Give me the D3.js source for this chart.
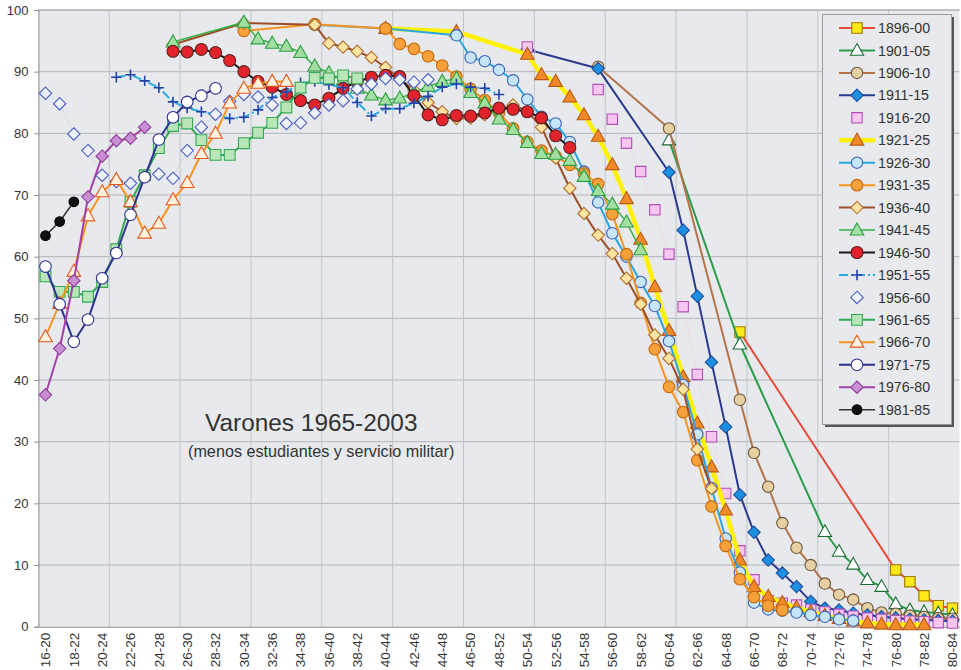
<!DOCTYPE html>
<html><head><meta charset="utf-8">
<script src="https://cdn.jsdelivr.net/npm/d3@7"></script>
<style>
body{margin:0;background:#fff;}
svg text{font-family:"Liberation Sans",Arial,Helvetica,sans-serif;fill:#333;}
</style></head>
<body><svg id="c" width="961" height="670"></svg>
<script>
// ---------- DATA ----------
const categories = ["16-20","17-21","18-22","19-23","20-24","21-25","22-26","23-27","24-28","25-29","26-30","27-31","28-32","29-33","30-34","31-35","32-36","33-37","34-38","35-39","36-40","37-41","38-42","39-43","40-44","41-45","42-46","43-47","44-48","45-49","46-50","47-51","48-52","49-53","50-54","51-55","52-56","53-57","54-58","55-59","56-60","57-61","58-62","59-63","60-64","61-65","62-66","63-67","64-68","65-69","66-70","67-71","68-72","69-73","70-74","71-75","72-76","73-77","74-78","75-79","76-80","77-81","78-82","79-83","80-84"];
const tickLabels = ["16-20","18-22","20-24","22-26","24-28","26-30","28-32","30-34","32-36","34-38","36-40","38-42","40-44","42-46","44-48","46-50","48-52","50-54","52-56","54-58","56-60","58-62","60-64","62-66","64-68","66-70","68-72","70-74","72-76","74-78","76-80","78-82","80-84"];
const yTicks = [0,10,20,30,40,50,60,70,80,90,100];
const seriesNames = ["1896-00","1901-05","1906-10","1911-15","1916-20","1921-25","1926-30","1931-35","1936-40","1941-45","1946-50","1951-55","1956-60","1961-65","1966-70","1971-75","1976-80","1981-85"];
// first category of each series (values below run over consecutive categories; null = not observed)
const firstCategory = ["65-69","60-64","55-59","50-54","50-54","40-44","35-39","30-34","25-29","25-29","25-29","21-25","16-20","16-20","16-20","16-20","16-20","16-20"];
const _ = null;
const v1896 = [47.8,_,_,_,_,_,_,_,_,_,_,9.2,7.3,5.0,3.4,3.0];
const v1901 = [78.9,_,_,_,_,45.8,_,_,_,_,_,15.4,12.2,10.1,7.6,6.5,3.7,2.7,2.4,2.2,1.9];
const v1906 = [90.8,_,_,_,_,80.8,_,_,_,_,36.8,28.2,22.7,16.8,12.8,10.0,7.0,5.2,4.4,3.0,2.3,2.1,1.8,1.6,1.4,1.3];
const v1911 = [93.6,_,_,_,_,90.5,_,_,_,_,73.7,64.3,53.6,42.9,32.4,21.4,15.3,10.8,8.7,6.5,4.1,3.0,2.7,2.2,1.9,1.6,1.4,1.2,1.1,1.0,0.9];
const v1916 = [94.0,_,_,_,_,87.1,82.3,78.4,73.8,67.6,60.4,51.9,40.9,30.8,21.6,12.3,7.6,4.2,3.8,3.5,2.8,2.4,2.0,1.7,1.4,1.2,1.0,0.9,0.8,0.65,0.6];
const v1921 = [97.0,_,_,_,_,96.5,_,_,_,_,92.8,89.5,88.4,85.9,83.0,79.5,74.9,69.4,62.8,55.1,48.0,40.5,33.0,25.9,18.9,10.8,6.5,4.9,3.9,3.1,2.4,1.8,1.3,0.9,0.6,0.4,0.3,0.3,0.3];
const v1926 = [97.6,_,_,_,_,97.0,_,_,_,_,95.9,92.3,91.7,90.3,88.6,85.5,82.7,81.6,78.6,73.8,68.8,63.8,60.0,55.9,52.0,46.3,39.2,31.2,22.5,14.3,8.8,3.9,2.8,2.6,2.3,1.9,1.6,1.2,1.0];
const v1931 = [96.6,_,_,_,_,97.7,_,_,_,_,97.0,94.5,93.7,92.5,91.0,89.2,87.2,85.4,83.3,80.8,78.6,77.2,76.3,74.9,73.5,71.8,66.9,60.4,52.5,45.0,38.9,34.8,27.0,19.5,13.1,7.7,4.8,3.4,2.7];
const v1936 = [94.4,_,_,_,_,97.9,_,_,_,_,97.6,94.6,94.0,93.3,92.3,90.7,88.9,87.0,85.0,83.5,82.4,82.5,83.0,83.8,84.6,83.6,81.0,76.0,71.1,67.0,63.5,60.5,56.5,52.3,47.3,43.5,38.5,28.8,22.4];
const v1941 = [94.8,_,_,_,_,98.0,95.3,94.6,94.1,93.1,90.9,89.8,88.6,87.3,86.2,85.4,85.7,86.6,87.6,88.4,88.9,86.6,84.9,82.3,80.6,78.5,76.7,76.6,75.6,73.0,70.7,68.5,65.6,61.1];
const v1946 = [93.3,93.2,93.6,93.1,91.8,90.0,88.4,87.5,86.3,85.3,84.6,85.7,87.3,88.4,89.1,89.4,89.2,86.1,83.0,82.2,82.9,82.8,83.3,84.1,83.9,83.5,82.5,79.6,77.7];
const v1951 = [89.1,89.5,88.5,87.4,85.1,84.1,83.5,83.0,82.4,82.6,83.8,85.8,86.7,88.2,88.4,87.9,87.4,85.0,82.8,84.0,84.0,84.9,86.0,87.5,88.0,87.5,87.3,86.3];
const v1956 = [86.5,84.8,79.9,77.2,73.2,72.2,71.9,73.0,73.4,72.7,77.2,81.0,83.1,85.2,86.3,85.9,84.6,81.6,81.7,83.3,84.6,85.3,87.2,88.0,88.9,88.7,88.3,88.7];
const v1961 = [56.8,54.3,54.3,53.5,55.9,61.2,68.9,73.2,77.6,81.2,81.6,78.9,76.5,76.5,78.4,80.1,81.7,84.2,87.4,89.0,88.9,89.4,88.9];
const v1966 = [47.0,52.4,57.6,66.6,70.5,72.5,68.9,63.8,65.4,69.2,72.0,76.7,80.0,84.9,87.3,88.1,88.4,88.4];
const v1971 = [58.4,52.3,46.2,49.8,56.5,60.6,66.8,72.9,79.0,82.6,85.1,86.1,87.3];
const v1976 = [37.6,45.1,56.1,69.7,76.3,78.8,79.2,81.0];
const v1981 = [63.4,65.7,68.9];
const seriesValues = [v1896,v1901,v1906,v1911,v1916,v1921,v1926,v1931,v1936,v1941,v1946,v1951,v1956,v1961,v1966,v1971,v1976,v1981];

// ---------- STYLES ----------
const lineColor  = ["#e84a3a","#2a9d4a","#b5734a","#2b3a8c","#f6cdea","#fff200","#2aa6df","#f7941d","#9c4f2a","#37b34a","#1a1a1a","#29abe2","#b4d8f0","#2fa84f","#f7941d","#2e3192","#a43fa8","#333333"];
const lineWidth  = [2,2,2,2,1,4.5,2,2,2,1.5,2,2,1,2,2,2,2,1.5];
const lineDash   = [null,null,null,null,"2,2",null,null,null,null,null,null,"9,3,2,3","2,2",null,null,null,null,null];
const legendLine = [1,1,1,1,0,1,1,1,1,1,1,1,0,1,1,1,1,1];
const mShape     = ["square","triangle","circle","diamond","square","triangle","circle","circle","diamond","triangle","circle","plus","diamond","square","triangle","circle","diamond","circle"];
const mFill      = ["#ffe81a","#ffffff","#e6cfa0","#1c8fe0","#f6c6ef","#f28a2a","#c7e5fa","#f7a13a","#ffe3a3","#a3dfa0","#e3232b","none","#eef2fb","#b8e6b8","#fff3dd","#ffffff","#c98fd2","#111111"];
const mStroke    = ["#9a7a00","#1d6b34","#6b5a40","#1f4b9c","#b24fb6","#b85a14","#3a62b8","#c66a12","#b0702e","#2e9e44","#5a2020","#2541a8","#4b5cc4","#35a855","#e8561e","#2e3192","#8e3e9a","#000000"];
const mSize      = [5.2,6.3,5.7,6.2,5.2,6.5,5.7,5.8,6.2,6.5,6,5.2,6.2,5.4,6.5,5.8,6.2,4.8];

// ---------- LAYOUT ----------
const svg = d3.select("#c");
const L = 38.4, R = 959.5, T = 10, B = 626.7;
const x = d3.scaleBand().domain(categories).range([L, R]);
const y = d3.scaleLinear().domain([0,100]).range([B, T]);
const bw = x.bandwidth();
const cx = c => x(c) + bw/2;

svg.append("rect").attr("x",L).attr("y",T).attr("width",R-L).attr("height",B-T).attr("fill","#e7e9ed");

// gridlines
svg.append("g").selectAll("line").data(yTicks.filter(t=>t>0)).join("line")
  .attr("x1",L).attr("x2",R).attr("y1",d=>y(d)).attr("y2",d=>y(d))
  .attr("stroke","#b3b5b9").attr("stroke-width",1);
svg.append("g").selectAll("line").data(categories.filter((c,i)=>i>0 && i%5===0)).join("line")
  .attr("x1",d=>x(d)).attr("x2",d=>x(d)).attr("y1",T).attr("y2",B)
  .attr("stroke","#c2c4c8").attr("stroke-width",1);

// axes
const ya = svg.append("g").attr("transform",`translate(${L},0)`)
  .call(d3.axisLeft(y).tickValues(yTicks).tickSize(4).tickPadding(6).tickFormat(d3.format("d")));
ya.select(".domain").attr("stroke","#8a8a8a");
ya.selectAll(".tick line").attr("stroke","#8a8a8a");
ya.selectAll("text").style("font-size","13px").attr("fill","#333");

const xa = svg.append("g").attr("transform",`translate(0,${B})`)
  .call(d3.axisBottom(x).tickValues(tickLabels).tickSize(0).tickSizeOuter(0));
xa.select(".domain").attr("stroke","#8a8a8a");
xa.selectAll("text").style("font-size","13.5px").attr("fill","#3a3a3a")
  .attr("transform","rotate(-90)").attr("text-anchor","end")
  .attr("x",-6).attr("y",0).attr("dy","0.36em");

// markers
function markerPath(shape, s){
  switch(shape){
    case "square": return `M${-s},${-s}H${s}V${s}H${-s}Z`;
    case "triangle": return `M0,${-s*1.1}L${s*1.05},${s*0.75}L${-s*1.05},${s*0.75}Z`;
    case "diamond": return `M0,${-s}L${s},0L0,${s}L${-s},0Z`;
    case "plus": return `M${-s},0H${s}M0,${-s}V${s}`;
    default: return null;
  }
}
function drawMarker(g, k, px, py){
  const s = mSize[k];
  if (mShape[k] === "circle"){
    g.append("circle").attr("cx",px).attr("cy",py).attr("r",s)
      .attr("fill",mFill[k]).attr("stroke",mStroke[k]).attr("stroke-width",1.1);
  } else {
    g.append("path").attr("d",markerPath(mShape[k],s)).attr("transform",`translate(${px},${py})`)
      .attr("fill",mFill[k]).attr("stroke",mStroke[k]).attr("stroke-width",mShape[k]==="plus"?1.6:1.1);
  }
}

const line = d3.line().x(d=>cx(d.cat)).y(d=>y(d.v));
seriesValues.forEach((vals,k)=>{
  const start = categories.indexOf(firstCategory[k]);
  const pts = vals.map((v,j)=>({cat:categories[start+j], v})).filter(p=>p.v!==null);
  const g = svg.append("g");
  const p = g.append("path").datum(pts).attr("d",line).attr("fill","none")
    .attr("stroke",lineColor[k]).attr("stroke-width",lineWidth[k]).attr("stroke-linejoin","round");
  if (lineDash[k]) p.attr("stroke-dasharray",lineDash[k]);
  pts.forEach(pt=>drawMarker(g,k,cx(pt.cat),y(pt.v)));
});

// plot border top
svg.append("line").attr("x1",L).attr("x2",R).attr("y1",T).attr("y2",T).attr("stroke","#a8aaae");

// title
svg.append("text").attr("x",205).attr("y",431).style("font-size","24.4px").attr("fill","#333").text("Varones 1965-2003");
svg.append("text").attr("x",188).attr("y",457).style("font-size","16.2px").attr("fill","#333").text("(menos estudiantes y servicio militar)");

// legend
const lg = svg.append("g");
lg.append("rect").attr("x",825).attr("y",17).attr("width",129).attr("height",410).attr("fill","#555");
lg.append("rect").attr("x",822.5).attr("y",14.5).attr("width",129).attr("height",410)
  .attr("fill","#e7e9ed").attr("stroke","#9a9a9a").attr("stroke-width",1);
seriesNames.forEach((name,k)=>{
  const yy = 28 + k*22.45;
  if (legendLine[k]) lg.append("line").attr("x1",839).attr("x2",875).attr("y1",yy).attr("y2",yy)
    .attr("stroke",lineColor[k]).attr("stroke-width",lineWidth[k]).attr("stroke-dasharray",lineDash[k]);
  drawMarker(lg,k,857,yy);
  lg.append("text").attr("x",878).attr("y",yy).attr("dy","0.36em").style("font-size","14.2px").attr("fill","#333").text(name);
});
</script>
</body></html>
